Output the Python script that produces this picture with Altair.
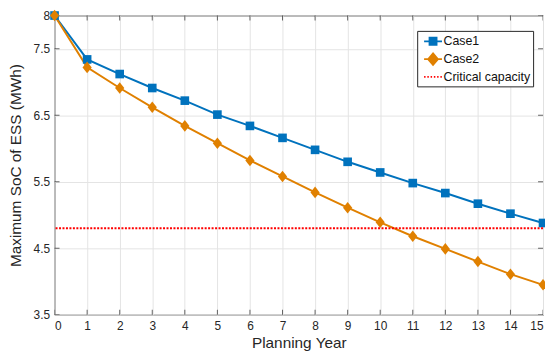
import altair as alt
import pandas as pd

years = list(range(16))
case1 = [8.00, 7.34, 7.12, 6.91, 6.72, 6.51, 6.34, 6.16, 5.98, 5.80,
         5.64, 5.48, 5.33, 5.17, 5.02, 4.88]
case2 = [8.00, 7.22, 6.91, 6.62, 6.34, 6.08, 5.82, 5.58, 5.34, 5.11,
         4.89, 4.68, 4.49, 4.30, 4.11, 3.95]
critical_capacity = 4.8
series_names = ["Case1", "Case2", "Critical capacity"]
series_colors = ["#0072BD", "#E08000", "#FF0000"]
x_ticks = list(range(16))
y_ticks = [3.5, 4.5, 5.5, 6.5, 7.5, 8]

FONT = "Arial, Liberation Sans, Helvetica, sans-serif"
AX = "#262626"

df = pd.DataFrame({
    "year": years * 2,
    "soc": case1 + case2,
    "series": ["Case1"] * len(years) + ["Case2"] * len(years),
})
crit_df = pd.DataFrame({"soc": [critical_capacity]})
legend_df = pd.DataFrame({"series": series_names})
x_lo, x_hi = x_ticks[0], x_ticks[-1]
y_lo, y_hi = y_ticks[0], y_ticks[-1]
bottom_ticks = pd.DataFrame({"year": x_ticks, "soc": [y_lo] * len(x_ticks)})
top_ticks = pd.DataFrame({"year": x_ticks, "soc": [y_hi] * len(x_ticks)})
left_ticks = pd.DataFrame({"year": [x_lo] * len(y_ticks), "soc": y_ticks})
right_ticks = pd.DataFrame({"year": [x_hi] * len(y_ticks), "soc": y_ticks})

xscale = alt.Scale(domain=[x_lo, x_hi], nice=False, zero=False)
yscale = alt.Scale(domain=[y_lo, y_hi], nice=False, zero=False)
color_scale = alt.Scale(domain=series_names, range=series_colors)

xaxis = alt.Axis(values=x_ticks, title="Planning Year", grid=True,
                 gridColor="#e4e4e4", gridWidth=1, tickSize=0, domain=False,
                 labelPadding=6, labelFontSize=12, labelColor=AX, labelFont=FONT,
                 titleFont=FONT, titleFontSize=15.5, titleFontWeight="normal",
                 titleColor=AX, titlePadding=4, format="d")
yaxis = alt.Axis(values=y_ticks, title="Maximum SoC of ESS (MWh)", grid=True,
                 gridColor="#e4e4e4", gridWidth=1, tickSize=0, domain=False,
                 labelPadding=5, labelFontSize=12, labelColor=AX, labelFont=FONT,
                 titleFont=FONT, titleFontSize=15.5, titleFontWeight="normal",
                 titleColor=AX, titlePadding=9.5, labelFlush=False, format=".1~f")

X = alt.X("year:Q", scale=xscale, axis=xaxis)
Y = alt.Y("soc:Q", scale=yscale, axis=yaxis)


def case_layers(name, color, shape, size):
    sub = alt.Chart(df).transform_filter(alt.datum.series == name)
    line = sub.mark_line(strokeWidth=2, color=color).encode(x=X, y=Y)
    pts = sub.mark_point(filled=True, shape=shape, size=size, opacity=1,
                         color=color).encode(x=X, y=Y)
    return line, pts


l1, p1 = case_layers("Case1", series_colors[0], "square", 76)
l2, p2 = case_layers("Case2", series_colors[1], "M0,-1.17L0.93,0L0,1.17L-0.93,0Z", 100)

rule = alt.Chart(crit_df).mark_rule(color=series_colors[2], strokeWidth=2,
                                    strokeDash=[2, 1.5]).encode(y=Y)

# legend symbols (line + marker), unit = 7px
dots = "".join("M%.3f,0H%.3f" % (-1.29 + i * 0.47, -1.29 + i * 0.47 + 0.21) for i in range(6))
legend_paths = [
    "M-1.29,0H-0.51M0.51,0H1.29M-0.51,-0.51H0.51V0.51H-0.51Z",
    "M-1.29,0H-0.71M0.71,0H1.29M0,-0.84L0.71,0L0,0.84L-0.71,0Z",
    dots,
]
leg = alt.Legend(title=None, orient="none", legendX=366, legendY=15.5,
                 fillColor="white", strokeColor=AX, padding=2.5,
                 symbolSize=196, symbolStrokeWidth=1.8, symbolOffset=5.5,
                 labelFontSize=12.5, labelFont=FONT, labelColor="#111111",
                 labelOffset=2.5, rowPadding=0, cornerRadius=0, symbolOpacity=1)
legend_layer = alt.Chart(legend_df).transform_filter("false").mark_point(
    filled=True, opacity=1
).encode(
    color=alt.Color("series:N", scale=color_scale, legend=leg),
    stroke=alt.Stroke("series:N", scale=alt.Scale(domain=series_names, range=series_colors), legend=leg),
    shape=alt.Shape("series:N", scale=alt.Scale(domain=series_names, range=legend_paths), legend=leg),
)


def ticks(data, orient):
    return alt.Chart(data).mark_tick(orient=orient, size=10, thickness=1,
                                     color=AX, clip=True).encode(x=X, y=Y)


tick_layers = [
    ticks(bottom_ticks, "vertical"),
    ticks(top_ticks, "vertical"),
    ticks(left_ticks, "horizontal"),
    ticks(right_ticks, "horizontal"),
]

chart = alt.layer(*tick_layers, l1, l2, p1, p2, rule, legend_layer).properties(
    width=493, height=302,
    autosize=alt.AutoSizeParams(type="none"),
    padding={"left": 47, "top": 6, "right": 2, "bottom": 36},
    background="white",
).configure_view(stroke=AX, strokeWidth=1)

chart.save("out.html", embed_options={"renderer": "svg", "actions": False})
